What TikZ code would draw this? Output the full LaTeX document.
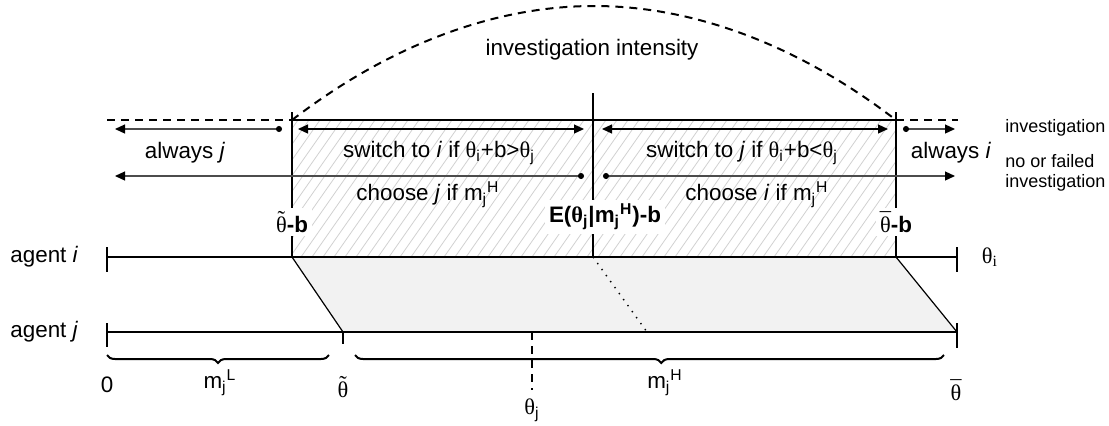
\documentclass[tikz,border=0pt]{standalone}
\usepackage{fontspec}
\setmainfont{Liberation Sans}
\newfontfamily\thetafont{Liberation Serif}
\usetikzlibrary{arrows.meta,decorations.pathreplacing,calc}

\newcommand{\thv}{{\thetafont θ}}
% theta with a mark set above it
\newcommand{\accth}[2]{{\thetafont\setbox0\hbox{θ}%
    \rlap{\hbox to \wd0{\hss\raisebox{#2}{#1}\hss}}\box0}}
\newcommand{\thtil}{\accth{˜}{0.25em}}
\newcommand{\thbar}{\accth{¯}{0.16em}}

\begin{document}
\begin{tikzpicture}[
    x=0.5pt, y=-0.5pt,
    every node/.style={font=\fontsize{11.2}{13}\selectfont, inner sep=1pt},
    axis/.style={line width=0.6pt},
    limit/.style={line width=0.6pt},
    dashline/.style={line width=1pt, dash pattern=on 4pt off 3pt},
    hatch/.style={black!18, line width=0.4pt},
    darr/.style={
        line width=0.6pt,
        {Triangle[length=5pt,width=4.5pt]}-{Triangle[length=5pt,width=4.5pt]}
    },
    dotarr/.style={
        line width=0.6pt, black!70,
        {Circle[length=3pt,color=black]}-{Triangle[length=5pt,width=4.5pt,color=black]}
    },
    cutlabel/.style={fill=white, inner sep=2pt},
    legend/.style={font=\fontsize{9}{10}\selectfont, align=left, anchor=west},
    mbrace/.style={
        decorate,
        decoration={brace, mirror, amplitude=4pt},
        line width=1pt
    }
]
\useasboundingbox (0,0) rectangle (1109,425);

% axis points
\coordinate (iA) at (107,257);
\coordinate (iB) at (957,257);
\coordinate (jA) at (107,332);
\coordinate (jB) at (957,332);
\coordinate (lo) at (292,257);
\coordinate (mid) at (593,257);
\coordinate (hi) at (896,257);
\coordinate (loj) at (343,332);
\coordinate (midj) at (647,332);
\coordinate (thj) at (532,332);

% top line points
\coordinate (topA) at (107,120);
\coordinate (topL) at (292,120);
\coordinate (topR) at (896,120);
\coordinate (topB) at (958,120);

% mapping band
\fill[black!5] (lo) -- (hi) -- (jB) -- (loj) -- cycle;

% hatched zone
\begin{scope}
    \clip (topL) rectangle (hi);
    \foreach \x in {180,191,...,900}
        \draw[hatch] (\x,257) -- ++(96,-137);
\end{scope}

% investigation intensity
\draw[dashline] (topA) -- (topL);
\draw[dashline] (topR) -- (topB);
\draw[line width=1pt] (topL) -- (topR);
\draw[dashline] (topL) parabola bend (594,6) (topR);
\node (intens) at (592,50) {investigation intensity};

% limits
\draw[limit] (lo) -- ++(0,-145);
\draw[limit] (mid) -- ++(0,-164);
\draw[limit] (hi) -- ++(0,-145);

% agents
\draw[axis] (iA) -- (iB);
\draw[axis] (jA) -- (jB);
\draw[axis] (lo) -- (loj);
\draw[axis] (hi) -- (jB);
\draw[line width=0.7pt, dash pattern=on 0.7pt off 3pt] (mid) -- (midj);
\draw[axis] ([yshift=5pt]iA) -- ([yshift=-7.5pt]iA);
\draw[axis] ([yshift=5pt]iB) -- ([yshift=-7.5pt]iB);
\draw[axis] ([yshift=4.5pt]jA) -- ([yshift=-7.5pt]jA);
\draw[axis] ([yshift=4.5pt]jB) -- ([yshift=-8pt]jB);
\draw[axis] (loj) -- ([yshift=-6pt]loj);
\draw[line width=1pt, dash pattern=on 4pt off 3pt] (thj) -- ++(0,58);

\node[anchor=west] (agi) at (8,257) {agent \textit{i}};
\node[anchor=west] (agj) at (8,332) {agent \textit{j}};
\node (thi) at (990,257) {\thv\textsubscript{{\thetafont i}}};

% investigation row
\coordinate (r1a) at (115,129);
\coordinate (r1b) at (282,129);
\coordinate (r1c) at (298,129);
\coordinate (r1d) at (584,129);
\coordinate (r1e) at (602,129);
\coordinate (r1f) at (888,129);
\coordinate (r1g) at (903,129);
\coordinate (r1h) at (955,129);
\draw[dotarr] (r1b) -- (r1a);
\draw[darr] (r1c) -- (r1d);
\draw[darr] (r1e) -- (r1f);
\draw[dotarr] (r1g) -- (r1h);

\node (alwj) at (185,153) {always \textit{j}};
\node (swi) at (439,153) {switch to \textit{i} if \thv\textsubscript{i}+b>\thv\textsubscript{j}};
\node (swj) at (742,153) {switch to \textit{j} if \thv\textsubscript{i}+b<\thv\textsubscript{j}};
\node (alwi) at (951,153) {always \textit{i}};

% no or failed investigation row
\coordinate (r2a) at (115,176);
\coordinate (r2b) at (584,176);
\coordinate (r2c) at (603,176);
\coordinate (r2d) at (955,176);
\draw[dotarr] (r2b) -- (r2a);
\draw[dotarr] (r2c) -- (r2d);

\node (chj) at (428,195) {choose \textit{j} if m\textsubscript{j}\textsuperscript{H}};
\node (chi) at (757,195) {choose \textit{i} if m\textsubscript{j}\textsuperscript{H}};

\node[legend] (leg1) at (1003,128) {investigation};
\node[legend] (leg2) at (1003,173) {no or failed\\investigation};

% cut-off labels
\node[cutlabel] (cutlo) at (292,222) {\thtil\textbf{-b}};
\node[cutlabel] (cutmid) at (605,217) {\textbf{E({\thetafont\bfseries θ}\textsubscript{j}|m\textsubscript{j}\textsuperscript{H})-b}};
\node[cutlabel] (cuthi) at (896,222) {\thbar\textbf{-b}};

% messages of agent j
\draw[mbrace] (107,355) -- (329,355);
\draw[mbrace, decoration={aspect=0.52}] (355,355) -- (944,355);

\node (zero) at (107,385) {0};
\node (mL) at (220,383) {m\textsubscript{j}\textsuperscript{L}};
\node (tlo) at (343,387) {\thtil};
\node (tj) at (532,410) {\thv\textsubscript{j}};
\node (mH) at (665,383) {m\textsubscript{j}\textsuperscript{H}};
\node (thb) at (956,390) {\thbar};

\end{tikzpicture}
\end{document}
